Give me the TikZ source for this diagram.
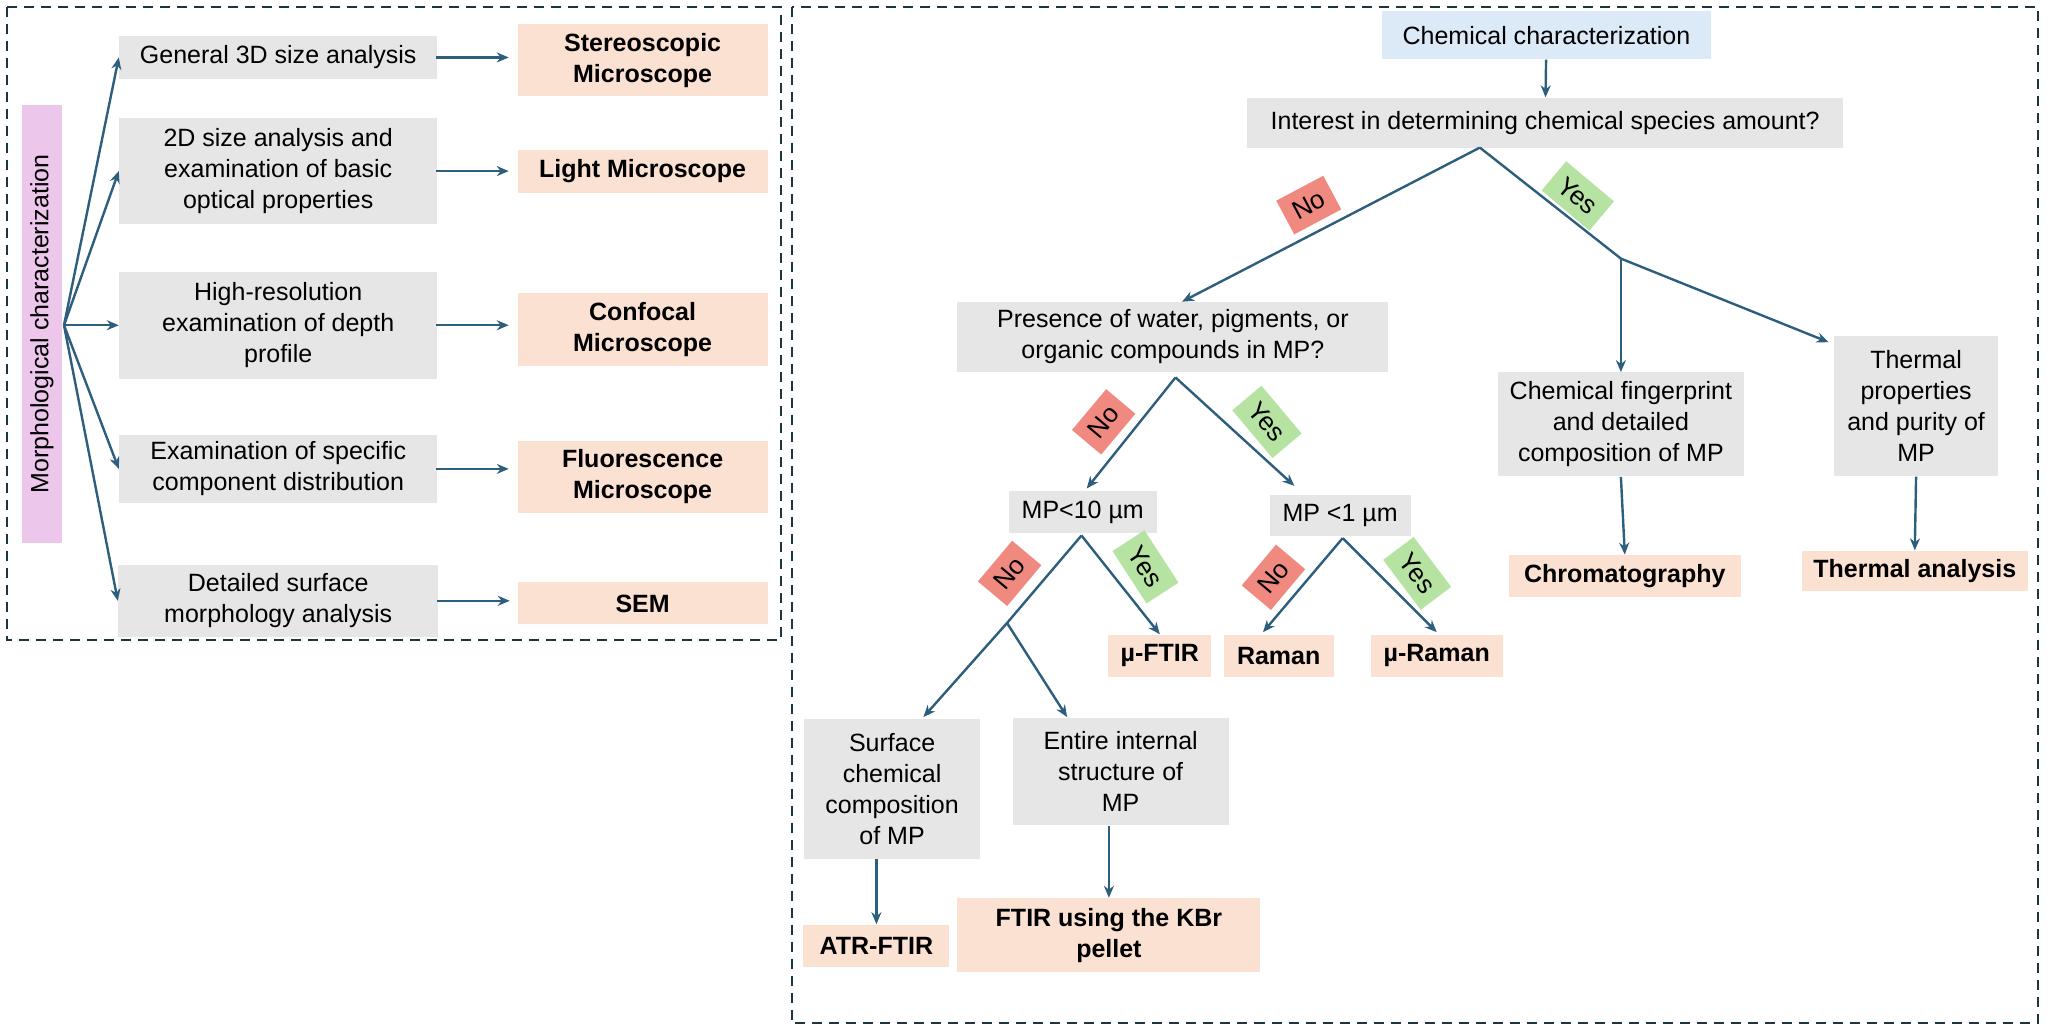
\documentclass[tikz,border=0pt]{standalone}
\usepackage{fontspec}
\setmainfont{Liberation Sans}
\usetikzlibrary{arrows.meta}
\definecolor{ar}{HTML}{2E5E7E}
\definecolor{gbox}{HTML}{E6E6E6}
\definecolor{obox}{HTML}{FBE1D2}
\definecolor{pbox}{HTML}{EDC6EC}
\definecolor{bbox}{HTML}{DCE9F7}
\definecolor{nored}{HTML}{F08A80}
\definecolor{yesgr}{HTML}{B6E3A2}
\definecolor{frame}{HTML}{1E3440}
\begin{document}
\begin{tikzpicture}[x=0.653pt,y=-0.653pt,
  every node/.style={font=\fontsize{12.5}{15.5}\selectfont, align=center, inner sep=0pt},
  g/.style={fill=gbox, minimum width=#1},
  o/.style={fill=obox, minimum width=#1, font=\fontsize{12.5}{15.5}\selectfont\bfseries},
  lab/.style={fill=#1, inner xsep=5pt, inner ysep=5pt, font=\fontsize{13}{15}\selectfont},
  arr/.style={draw=ar, line width=1.2pt, -{Stealth[length=6pt,width=5pt]}},
  ln/.style={draw=ar, line width=1.2pt},
  box/.style={draw=frame, line width=1pt, dash pattern=on 5pt off 3.5pt}]
\useasboundingbox (0,0) rectangle (1568,792);
\draw[box] (5,5) rectangle (598,490);
\draw[box] (606,5) rectangle (1560,783);
% left panel
\node[fill=pbox, minimum width=218.8pt, minimum height=20pt, rotate=90] (morph) at (32,248) {Morphological characterization};
\coordinate (hub) at (49,249);
\node[g=159pt, minimum height=21.5pt] (g1) at (213,44) {General 3D size analysis};
\node[g=159pt, minimum height=53pt] (g2) at (213,131) {2D size analysis and\\examination of basic\\optical properties};
\node[g=159pt, minimum height=53.5pt] (g3) at (213,249) {High-resolution\\examination of depth\\profile};
\node[g=159pt, minimum height=34pt] (g4) at (213,359) {Examination of specific\\component distribution};
\node[g=160pt, minimum height=36pt] (g5) at (213,460) {Detailed surface\\morphology analysis};
\node[o=125pt, minimum height=36pt] (o1) at (492,46) {Stereoscopic\\Microscope};
\node[o=125pt, minimum height=21.5pt] (o2) at (492,131) {Light Microscope};
\node[o=125pt, minimum height=36.5pt] (o3) at (492,252) {Confocal\\Microscope};
\node[o=125pt, minimum height=36pt] (o4) at (492,365) {Fluorescence\\Microscope};
\node[o=125pt, minimum height=21pt] (o5) at (492,462) {SEM};
\foreach \i in {1,...,5}{
  \draw[arr] (hub) -- (g\i.west);
  \draw[arr] ([xshift=-1pt]g\i.east) -- ++(56,0);
}
% right panel
\node[fill=bbox, minimum width=164.5pt, minimum height=24pt] (cc) at (1184,27) {Chemical characterization};
\node[g=298pt, minimum height=25pt] (int) at (1183,94) {Interest in determining chemical species amount?};
\draw[arr] (cc) -- (int);
\node[g=215.5pt, minimum height=34.6pt] (pres) at (898,258) {Presence of water, pigments, or\\organic compounds in MP?};
\node[g=123pt, minimum height=52pt] (fing) at (1241,325) {Chemical fingerprint\\and detailed\\composition of MP};
\node[g=81.6pt, minimum height=70pt] (therm) at (1467,311) {Thermal\\properties\\and purity of\\MP};
\coordinate (i0) at (1133,113);
\coordinate (ys) at (1241,198);
\draw[arr] (i0) -- (905,231);
\draw[ln] (i0) -- (ys);
\draw[arr] (ys) -- (fing.north);
\draw[arr] (ys) -- (1400,262);
\node[lab=nored, rotate=28] (no1) at (1002,157) {No};
\node[lab=yesgr, rotate=-40] (yes1) at (1208,150) {Yes};
\node[o=116pt, minimum height=21pt] (chrom) at (1244,441) {Chromatography};
\node[o=113pt, minimum height=20pt] (tha) at (1466,437) {Thermal analysis};
\draw[arr] (fing.south) -- (chrom.north);
\draw[arr] (therm.south) -- (tha.north);
% MP branches
\coordinate (p0) at (900,289);
\node[g=74pt, minimum height=21pt] (mp10) at (829,392) {MP<10 µm};
\node[g=70.5pt, minimum height=20.5pt] (mp1) at (1026,395) {MP <1 µm};
\draw[arr] (p0) -- (832,374);
\draw[arr] (p0) -- (991,372);
\node[lab=nored, rotate=50] (no2) at (845,323) {No};
\node[lab=yesgr, rotate=-50] (yes2) at (970,323) {Yes};
\node[o=51.6pt, minimum height=21pt] (muf) at (888,502) {µ-FTIR};
\node[o=55pt, minimum height=21pt] (ram) at (979,502) {Raman};
\node[o=66pt, minimum height=21pt] (mur) at (1100,502) {µ-Raman};
\coordinate (m0) at (828,410);
\coordinate (mb) at (771,477);
\draw[ln] (m0) -- (mb);
\draw[arr] (mb) -- (707,549);
\draw[arr] (mb) -- (817,549);
\draw[arr] (m0) -- (muf.north);
\node[lab=nored, rotate=50] (no3) at (773,439) {No};
\node[lab=yesgr, rotate=-57] (yes3) at (877,434) {Yes};
\coordinate (n0) at (1028,412);
\draw[arr] (n0) -- (967,484);
\draw[arr] (n0) -- (1100,484);
\node[lab=nored, rotate=50] (no4) at (975,442) {No};
\node[lab=yesgr, rotate=-53] (yes4) at (1085,439) {Yes};
\node[g=88pt, minimum height=70pt] (surf) at (683,604) {Surface\\chemical\\composition\\of MP};
\node[g=108pt, minimum height=53.5pt] (ent) at (858,591) {Entire internal\\structure of\\MP};
\node[o=73pt, minimum height=21pt] (atr) at (671,724) {ATR-FTIR};
\node[o=151.5pt, minimum height=37pt] (kbr) at (849,716) {FTIR using the KBr\\pellet};
\draw[arr] (surf.south -| atr.north) -- (atr.north);
\draw[arr] (ent.south -| kbr.north) -- (kbr.north);
\end{tikzpicture}
\end{document}
